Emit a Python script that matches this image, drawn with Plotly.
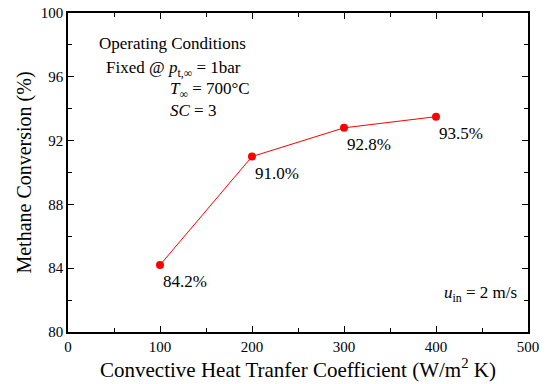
import plotly.graph_objects as go

h_values = [100, 200, 300, 400]
conversion = [84.2, 91.0, 92.8, 93.5]
point_labels = ["84.2%", "91.0%", "92.8%", "93.5%"]

FONT = "Liberation Serif"

fig = go.Figure()
fig.add_trace(go.Scatter(
    x=h_values, y=conversion, mode="lines+markers",
    line=dict(color="#ff0000", width=1),
    marker=dict(color="#ff0000", size=8),
    showlegend=False,
))

for x, y, t in zip(h_values, conversion, point_labels):
    fig.add_annotation(x=x, y=y, text=t, showarrow=False,
                       xanchor="left", yanchor="top", xshift=1, yshift=-5,
                       font=dict(family=FONT, size=17, color="black"))

ann_font = dict(family=FONT, size=17, color="black")
fig.add_annotation(xref="paper", yref="paper", x=0.062, y=0.905, text="Operating Conditions",
                   showarrow=False, xanchor="left", yanchor="middle", font=ann_font)
fig.add_annotation(xref="paper", yref="paper", x=0.078, y=0.826,
                   text="Fixed @ <i>p</i><sub>t,∞</sub> = 1bar",
                   showarrow=False, xanchor="left", yanchor="middle", font=ann_font)
fig.add_annotation(xref="paper", yref="paper", x=0.218, y=0.758,
                   text="<i>T</i><sub>∞</sub> = 700°C",
                   showarrow=False, xanchor="left", yanchor="middle", font=ann_font)
fig.add_annotation(xref="paper", yref="paper", x=0.218, y=0.694,
                   text="<i>SC</i> = 3",
                   showarrow=False, xanchor="left", yanchor="middle", font=ann_font)
fig.add_annotation(xref="paper", yref="paper", x=0.98, y=0.118,
                   text="<i>u</i><sub>in</sub> = 2 m/s",
                   showarrow=False, xanchor="right", yanchor="middle", font=ann_font)

axis_common = dict(
    showgrid=False, zeroline=False, showline=True, linecolor="black", linewidth=1.5,
    mirror="ticks", ticks="inside", ticklen=6, tickwidth=1.2, tickcolor="black",
    tickfont=dict(family=FONT, size=15, color="black"), automargin=False,
)
fig.update_xaxes(range=[0, 500], tickvals=[0, 100, 200, 300, 400, 500],
                 minor=dict(ticks="inside", dtick=50, ticklen=4, tickwidth=1, tickcolor="black"),
                 title=dict(text="Convective Heat Tranfer Coefficient (W/m<sup>2</sup> K)",
                            font=dict(family=FONT, size=21, color="black"), standoff=2),
                 **axis_common)
fig.update_yaxes(range=[80, 100], tickvals=[80, 84, 88, 92, 96, 100],
                 minor=dict(ticks="inside", dtick=2, ticklen=4, tickwidth=1, tickcolor="black"),
                 title=dict(text="Methane Conversion (%)",
                            font=dict(family=FONT, size=20, color="black"), standoff=4),
                 **axis_common)

fig.update_layout(
    width=548, height=384,
    margin=dict(l=68, r=20, t=13, b=52),
    plot_bgcolor="white", paper_bgcolor="white",
)

fig.write_html("out.html")
